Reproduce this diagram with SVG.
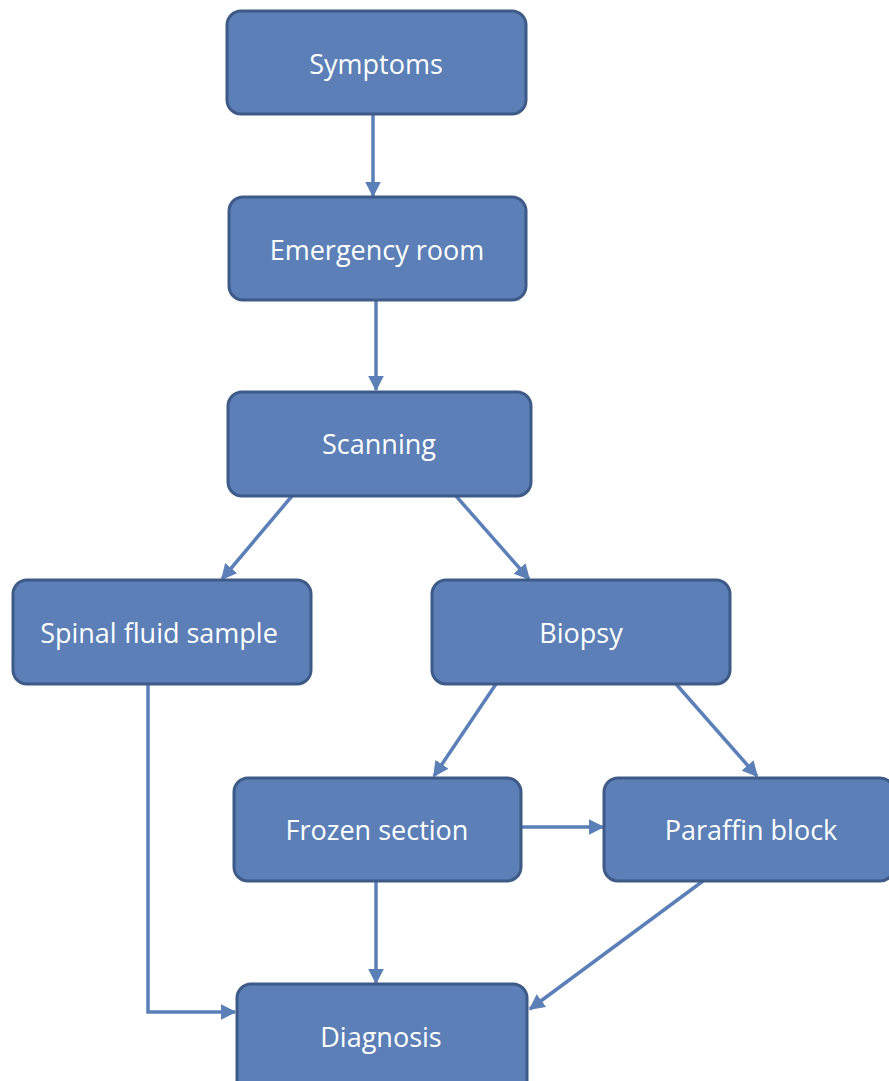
<svg xmlns="http://www.w3.org/2000/svg" width="889" height="1081" viewBox="0 0 889 1081">
<style>
.node rect{fill:#5b7fb6;stroke:#3e5b88;stroke-width:3}
.node text{fill:#ffffff;font-family:"Open Sans","DejaVu Sans",sans-serif;font-size:27px;text-anchor:middle;dominant-baseline:central}
#connectors path{fill:none;stroke:#5b80b8;stroke-width:3.5;marker-end:url(#arr)}
</style>
<defs>
<marker id="arr" viewBox="0 0 10 10" refX="9" refY="5" markerWidth="4.5" markerHeight="4.5" orient="auto" markerUnits="strokeWidth">
<path d="M0,0 L10,5 L0,10 z" fill="#5b80b8"/>
</marker>
</defs>
<g id="connectors">
<path d="M373,114 L373,196"/>
<path d="M376,300 L376,390"/>
<path d="M292,496 L222,579"/>
<path d="M456,496 L529,579"/>
<path d="M496,684 L434,776"/>
<path d="M676,684 L757,776"/>
<path d="M521,827 L603,827"/>
<path d="M376,881 L376,983"/>
<path d="M703,881 L530,1009"/>
<path d="M148,684 L148,1012 L235,1012"/>
</g>
<g id="symptoms" class="node"><rect x="227" y="11" width="299" height="103" rx="14"/><text x="376" y="63">Symptoms</text></g>
<g id="emergency" class="node"><rect x="229" y="197" width="297" height="103" rx="14"/><text x="377" y="249">Emergency room</text></g>
<g id="scanning" class="node"><rect x="228" y="392" width="303" height="104" rx="14"/><text x="379" y="443">Scanning</text></g>
<g id="spinal" class="node"><rect x="13" y="580" width="298" height="104" rx="14"/><text x="159" y="632">Spinal fluid sample</text></g>
<g id="biopsy" class="node"><rect x="432" y="580" width="298" height="104" rx="14"/><text x="581" y="632">Biopsy</text></g>
<g id="frozen" class="node"><rect x="234" y="778" width="287" height="103" rx="14"/><text x="377" y="829">Frozen section</text></g>
<g id="paraffin" class="node"><rect x="604" y="778" width="290" height="103" rx="14"/><text x="751" y="829">Paraffin block</text></g>
<g id="diagnosis" class="node"><rect x="237" y="984" width="290" height="110" rx="14"/><text x="381" y="1036">Diagnosis</text></g>
</svg>
